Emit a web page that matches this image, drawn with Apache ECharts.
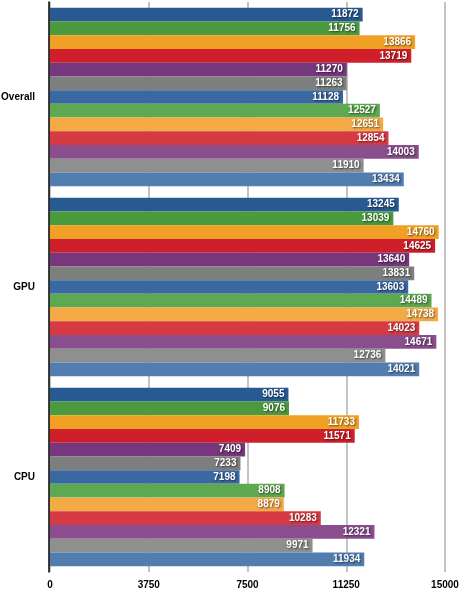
<!DOCTYPE html>
<html><head><meta charset="utf-8">
<script src="https://cdn.jsdelivr.net/npm/echarts@6/dist/echarts.min.js"></script>
<style>html,body{margin:0;padding:0;background:#fff}#c{width:460px;height:593px}</style>
</head><body><div id="c"></div>
<script>
const categories = ['Overall', 'GPU', 'CPU'];
const xTicks = [0, 3750, 7500, 11250, 15000];
const s1 = [11872, 13245, 9055];
const s2 = [11756, 13039, 9076];
const s3 = [13866, 14760, 11733];
const s4 = [13719, 14625, 11571];
const s5 = [11270, 13640, 7409];
const s6 = [11263, 13831, 7233];
const s7 = [11128, 13603, 7198];
const s8 = [12527, 14489, 8908];
const s9 = [12651, 14738, 8879];
const s10 = [12854, 14023, 10283];
const s11 = [14003, 14671, 12321];
const s12 = [11910, 12736, 9971];
const s13 = [13434, 14021, 11934];
const seriesValues = [s1, s2, s3, s4, s5, s6, s7, s8, s9, s10, s11, s12, s13];
const colors = ['#265a91', '#4b9a3d', '#f0a024', '#cf1f2a', '#76377c', '#7d7f7e',
  '#3a68a0', '#5ea852', '#f3aa45', '#d63a43', '#8a4d8d', '#8e908f', '#517daf'];
const FONT = 'Liberation Sans Narrow, Arial Narrow, Liberation Sans, sans-serif';

const chart = echarts.init(document.getElementById('c'), null, {renderer: 'canvas'});
chart.setOption({
  animation: false,
  grid: {left: 50, right: 15, top: 2, bottom: 21, containLabel: false, outerBoundsMode: 'none'},
  xAxis: {
    type: 'value', min: xTicks[0], max: xTicks[xTicks.length - 1], interval: 3750,
    axisLine: {show: false}, axisTick: {show: false},
    splitLine: {show: true, lineStyle: {color: '#b0b0b0', width: 1.5}},
    axisLabel: {color: '#000', fontWeight: 'bold', fontSize: 10, fontFamily: FONT, margin: 8,
      formatter: v => String(v)}
  },
  yAxis: {
    type: 'category', data: categories, inverse: true, offset: 1, z: 5,
    axisLine: {show: true, onZero: false, lineStyle: {color: '#000', width: 1.5}},
    axisTick: {show: false},
    axisLabel: {color: '#000', fontWeight: 'bold', fontSize: 10, fontFamily: FONT, margin: 14}
  },
  series: seriesValues.map((vals, i) => ({
    type: 'bar', name: 'Series ' + (i + 1), data: vals,
    barGap: '0%', barCategoryGap: '6%',
    itemStyle: {color: colors[i]},
    label: {
      show: true, position: 'insideRight', distance: 4,
      color: '#fff', fontWeight: 'bold', fontSize: 10, fontFamily: FONT,
      textShadowColor: 'rgba(0,0,0,0.6)', textShadowBlur: 2, textShadowOffsetX: 1, textShadowOffsetY: 1
    }
  }))
});
</script></body></html>
